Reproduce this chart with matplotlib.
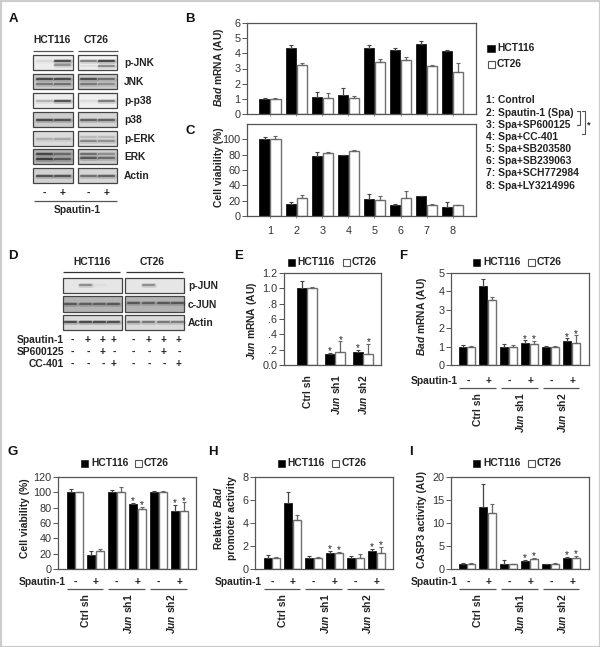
import matplotlib
matplotlib.use("Agg")
import matplotlib.pyplot as plt
from matplotlib.patches import Rectangle

plt.rcParams["font.family"] = ["Liberation Sans", "DejaVu Sans"]
plt.rcParams["mathtext.fontset"] = "custom"
plt.rcParams["mathtext.bfit"] = "Liberation Sans:italic:bold"

W, H = 600, 647
INK = "#222222"
AXC = "#555555"
LAB = 7.4

# bar panels: black series, its errors, white series, its errors
B_hct = [1.0, 4.35, 1.15, 1.25, 4.35, 4.25, 4.6, 4.15]
B_hct_err = [0.05, 0.22, 0.3, 0.45, 0.2, 0.1, 0.2, 0.08]
B_ct = [1.0, 3.25, 1.05, 1.05, 3.4, 3.55, 3.15, 2.8]
B_ct_err = [0.05, 0.08, 0.35, 0.12, 0.2, 0.22, 0.08, 0.55]

C_hct = [100, 16, 78, 79, 22, 15, 26, 12]
C_hct_err = [2.5, 2, 6, 1, 7, 1, 0.5, 6]
C_ct = [100, 24, 82, 85, 21, 24, 14, 14]
C_ct_err = [4, 3, 1.5, 1.5, 5, 8, 2, 1]

E_hct = [1.01, 0.14, 0.17]
E_hct_err = [0.08, 0.02, 0.03]
E_ct = [1.0, 0.17, 0.15]
E_ct_err = [0.02, 0.14, 0.13]

F_hct = [1, 4.32, 1, 1.22, 1, 1.3]
F_hct_err = [0.06, 0.33, 0.13, 0.12, 0.03, 0.15]
F_ct = [1, 3.55, 1, 1.13, 1, 1.22]
F_ct_err = [0.03, 0.12, 0.07, 0.2, 0.05, 0.4]

G_hct = [100, 18, 100, 85, 100, 76]
G_hct_err = [4, 6, 3, 1.5, 1.5, 8]
G_ct = [100, 24, 100, 78, 100, 76]
G_ct_err = [1, 1.5, 7, 3, 1.5, 11]

H_hct = [1, 5.7, 1, 1.4, 1, 1.55]
H_hct_err = [0.22, 1, 0.1, 0.2, 0.12, 0.2]
H_ct = [1, 4.25, 1, 1.4, 1, 1.4]
H_ct_err = [0.07, 0.45, 0.08, 0.12, 0.3, 0.55]

I_hct = [1, 13.5, 1, 1.8, 1, 2.3]
I_hct_err = [0.4, 5, 1, 0.2, 0.15, 0.4]
I_ct = [1, 12.2, 1, 2.2, 1, 2.4]
I_ct_err = [0.2, 2, 0.05, 0.3, 0.3, 0.5]

treatments = ["1: Control", "2: Spautin-1 (Spa)", "3: Spa+SP600125", "4: Spa+CC-401",
              "5: Spa+SB203580", "6: Spa+SB239063", "7: Spa+SCH772984", "8: Spa+LY3214996"]

# blots: background grey, then (height in blot, darkness per lane)
A_names = ["p-JNK", "JNK", "p-p38", "p38", "p-ERK", "ERK", "Actin"]
A_hct = [(0.93, [(0.42, [0.1, 0.95]), (0.68, [0, 0.5])]),
         (0.8, [(0.35, [0.9, 0.9]), (0.65, [0.55, 0.6])]),
         (0.93, [(0.5, [0.3, 0.9])]),
         (0.8, [(0.5, [0.9, 0.85])]),
         (0.86, [(0.55, [0.25, 0.3])]),
         (0.7, [(0.3, [0.85, 0.55]), (0.65, [0.95, 0.7])]),
         (0.82, [(0.55, [0.85, 0.85])])]
A_ct = [(0.95, [(0.42, [0.6, 1.0]), (0.72, [0.1, 0.55])]),
        (0.8, [(0.35, [0.85, 0.6]), (0.65, [0.55, 0.4])]),
        (0.94, [(0.5, [0.1, 0.65])]),
        (0.84, [(0.55, [0.75, 0.75])]),
        (0.87, [(0.4, [0.2, 0.2]), (0.65, [0.5, 0.45])]),
        (0.8, [(0.3, [0.6, 0.4]), (0.62, [0.8, 0.65])]),
        (0.84, [(0.55, [0.65, 0.75])])]
D_names = ["p-JUN", "c-JUN", "Actin"]
D_hct = [(0.9, [(0.45, [0, 0.5, 0.04, 0])]),
         (0.7, [(0.48, [0.7, 0.65, 0.65, 0.7])]),
         (0.86, [(0.45, [0.9, 0.95, 0.95, 0.9])])]
D_ct = [(0.9, [(0.45, [0, 0.5, 0, 0])]),
        (0.7, [(0.45, [0.7, 0.65, 0.7, 0.7])]),
        (0.86, [(0.48, [0.65, 0.6, 0.6, 0.55])])]
D_rows = ["Spautin-1", "SP600125", "CC-401"]
D_signs = [list("-+++"), list("--+-"), list("---+")]


def px_axes(fig, l, t, r, b):
    return fig.add_axes([l / W, 1 - b / H, (r - l) / W, (b - t) / H])


def bar_panel(fig, box, first, step, hct, hct_err, ct, ct_err, ylim, yticks,
              ylabels=None, stars=(), width=0.42):
    l, t, r, b = box
    ax = px_axes(fig, l, t, r, b)
    n = len(hct)
    xs = list(range(n))
    pos_a = [x - width / 2 for x in xs]
    pos_b = [x + width / 2 for x in xs]
    ax.bar(pos_a, hct, width * 0.92, color="black", edgecolor="black", lw=0.5, zorder=2)
    ax.bar(pos_b, ct, width * 0.92, color="white", edgecolor="#707070", lw=1.0, zorder=2)
    for pos, v, e, c in ((pos_a, hct, hct_err, "#444444"), (pos_b, ct, ct_err, "#666666")):
        ax.errorbar(pos, v, yerr=[[0] * n, e], fmt="none", ecolor=c, elinewidth=0.9,
                    capsize=1.4, capthick=0.8, zorder=3)
    for i in stars:
        for pos, v, e in ((pos_a, hct, hct_err), (pos_b, ct, ct_err)):
            ax.annotate("*", (pos[i], v[i] + e[i]), xytext=(0, -2.5), textcoords="offset points",
                        ha="center", va="bottom", fontsize=7, color=INK)
    ax.set_xlim(-(first - l) / step, (r - first) / step)
    ax.set_ylim(*ylim)
    ax.set_yticks(yticks)
    if ylabels:
        ax.set_yticklabels(ylabels)
    ax.set_xticks([])
    ax.tick_params(axis="y", length=3.6, width=0.7, color=AXC, labelsize=7.8, labelcolor="#333333", pad=1.2)
    for s in ax.spines.values():
        s.set_color(AXC)
        s.set_linewidth(0.9)
    return ax


def ylab(ax, box, text, x_right, y_mid, spacing=1.05):
    l, t, r, b = box
    ax.set_ylabel(text, fontsize=LAB, fontweight="bold", color=INK, linespacing=spacing)
    ax.yaxis.set_label_coords((x_right - l) / (r - l), (b - y_mid) / (b - t))


def blot(ov, l, t, r, b, spec, lanes, half):
    bg, bands = spec
    ov.add_patch(Rectangle((l, t), r - l, b - t, fc=str(bg), ec="#444444", lw=0.9, zorder=2))
    for frac, dark in bands:
        y = t + frac * (b - t)
        for x, d in zip(lanes, dark):
            if d <= 0:
                continue
            ov.plot([x - half, x + half], [y, y], color="black", alpha=d * 0.22, lw=3.4,
                    solid_capstyle="round", zorder=3)
            ov.plot([x - half, x + half], [y, y], color="black", alpha=d * 0.6, lw=1.5,
                    solid_capstyle="round", zorder=4)


def T(ov, x, y, s, size=LAB, weight="bold", ha="left", va="center", rot=0, color=INK):
    ov.text(x, y, s, fontsize=size, fontweight=weight, ha=ha, va=va, rotation=rot, color=color)


def seg(ov, x0, x1, y0, y1, color="#555555", lw=0.9):
    ov.plot([x0, x1], [y0, y1], color=color, lw=lw, solid_capstyle="butt")


def legend(ov, x_black, x_text, x_white, x_text2, y):
    ov.add_patch(Rectangle((x_black, y - 3.5), 7, 7, fc="black", ec="black", lw=0.4))
    T(ov, x_text, y, "HCT116")
    ov.add_patch(Rectangle((x_white, y - 3.5), 6.5, 7, fc="white", ec="#555555", lw=0.8))
    T(ov, x_text2, y, "CT26")


def under_axis(ov, right, minus, plus, y_sign, y_line, spans, centers, y_lab):
    T(ov, right, y_sign, "Spautin-1", ha="right")
    for g in range(3):
        T(ov, minus + g * 41.7, y_sign, "-", ha="center")
        T(ov, plus + g * 41.7, y_sign, "+", ha="center")
    for a, c in spans:
        seg(ov, a, c, y_line, y_line)
    for c, s in zip(centers, ["Ctrl sh", r"$\mathbfit{Jun}$ sh1", r"$\mathbfit{Jun}$ sh2"]):
        T(ov, c, y_lab, s, ha="center", va="top", rot=90)


BAD = r"$\mathbfit{Bad}$"
JUN = r"$\mathbfit{Jun}$"

fig = plt.figure(figsize=(W / 100, H / 100), dpi=100, facecolor="white")

box_b = (247, 23, 476, 114)
box_c = (247, 124, 476, 216)
box_e = (284, 273, 381, 365)
box_f = (451, 273, 589, 365)
box_g = (58, 477, 196, 569)
box_h = (255, 477, 393, 569)
box_i = (451, 477, 589, 569)

ax = bar_panel(fig, box_b, 270, 26.1, B_hct, B_hct_err, B_ct, B_ct_err, (0, 6), range(0, 7))
ax.set_xticks(range(8))
ax.set_xticklabels([])
ax.tick_params(axis="x", length=1.5, width=0.6, color="#888888")
ylab(ax, box_b, BAD + " mRNA (AU)", 226, 67)

ax = bar_panel(fig, box_c, 270, 26.1, C_hct, C_hct_err, C_ct, C_ct_err, (0, 120), range(0, 101, 20))
ax.set_xticks(range(8))
ax.set_xticklabels(list("12345678"))
ax.tick_params(axis="x", labelsize=7.8, labelcolor="#333333", length=1.5, width=0.6, color="#888888", pad=6)
ylab(ax, box_c, "Cell viability (%)", 224, 167)

ax = bar_panel(fig, box_e, 307, 28, E_hct, E_hct_err, E_ct, E_ct_err, (0, 1.2),
               [0, 0.2, 0.4, 0.6, 0.8, 1.0, 1.2], ["0.0", ".2", ".4", ".6", ".8", "1.0", "1.2"],
               stars=(1, 2), width=0.39)
ylab(ax, box_e, JUN + " mRNA (AU)", 259, 321)

ax = bar_panel(fig, box_f, 467, 20.85, F_hct, F_hct_err, F_ct, F_ct_err, (0, 5), range(0, 6), stars=(3, 5))
ylab(ax, box_f, BAD + " mRNA (AU)", 429, 316)

ax = bar_panel(fig, box_g, 75, 20.85, G_hct, G_hct_err, G_ct, G_ct_err, (0, 120), range(0, 121, 20), stars=(3, 5))
ylab(ax, box_g, "Cell viability (%)", 30, 518)

ax = bar_panel(fig, box_h, 272, 20.85, H_hct, H_hct_err, H_ct, H_ct_err, (0, 8), range(0, 9, 2), stars=(3, 5))
ylab(ax, box_h, "Relative " + BAD + "\npromoter activity", 237, 518, spacing=1.35)

ax = bar_panel(fig, box_i, 467, 20.85, I_hct, I_hct_err, I_ct, I_ct_err, (0, 20), range(0, 21, 5), stars=(3, 5))
ylab(ax, box_i, "CASP3 activity (AU)", 427, 520)

# overlay in reference pixels for labels, blots and brackets
ov = fig.add_axes([0, 0, 1, 1], zorder=10)
ov.set_xlim(0, W)
ov.set_ylim(H, 0)
ov.axis("off")
ov.patch.set_alpha(0)
ov.add_patch(Rectangle((0.5, 0.5), W - 1, H - 1, fc="none", ec="#cccccc", lw=1.6))

for s, x, y in [("A", 13, 19), ("B", 190, 19), ("C", 190, 131), ("D", 13, 256), ("E", 239, 256),
                ("F", 403, 256), ("G", 13, 452), ("H", 213, 452), ("I", 411, 452)]:
    T(ov, x, y, s, size=9.5, ha="center", color="#111111")

# panel A
T(ov, 52, 40, "HCT116", ha="center")
T(ov, 96, 40, "CT26", ha="center")
seg(ov, 33, 73, 50.5, 50.5)
seg(ov, 78, 118, 50.5, 50.5)
tops = [55, 74, 93, 112, 131, 149, 168]
for i, top in enumerate(tops):
    blot(ov, 33, top, 73, top + 15, A_hct[i], [44, 62], 7.5)
    blot(ov, 78, top, 117, top + 15, A_ct[i], [88, 106], 7.5)
    T(ov, 124, top + 8, A_names[i])
for x, s in zip([44, 63, 88, 107], "-+-+"):
    T(ov, x, 193, s, ha="center")
seg(ov, 34, 117, 201, 201)
T(ov, 77, 210, "Spautin-1", ha="center")

# panel D
T(ov, 92, 262, "HCT116", ha="center")
T(ov, 152, 262, "CT26", ha="center")
seg(ov, 63, 120, 272, 272, color="#333333")
seg(ov, 126, 183, 272, 272, color="#333333")
for i, (top, bot) in enumerate([(278, 293), (296, 312), (315, 330)]):
    blot(ov, 63, top, 122, bot, D_hct[i], [70, 85, 99, 113], 5.5)
    blot(ov, 125, top, 184, bot, D_ct[i], [133, 148, 163, 177], 5.5)
    T(ov, 188, (top + bot) / 2 + 0.5, D_names[i])
for i, y in enumerate([340, 352, 364]):
    T(ov, 64, y, D_rows[i], ha="right")
    for x, s in zip([72, 88, 103, 114, 133, 149, 164, 179], D_signs[i] + D_signs[i]):
        T(ov, x, y, s, ha="center")

# legends
ov.add_patch(Rectangle((487, 44.5), 8, 7, fc="black", ec="black", lw=0.4))
T(ov, 497, 48, "HCT116")
ov.add_patch(Rectangle((487.5, 60.5), 7, 7, fc="white", ec="#555555", lw=0.8))
T(ov, 497, 64, "CT26")
legend(ov, 288, 297, 343, 352, 262)
legend(ov, 473, 483, 528, 537, 262)
legend(ov, 81, 91, 135, 144, 463)
legend(ov, 278, 287, 332, 342, 463)
legend(ov, 473, 483, 528, 537, 463)

# treatment list and brackets
for y, s in zip([100, 113, 125, 137, 149, 161, 173, 186], treatments):
    T(ov, 486, y, s)
ov.plot([577, 580, 580, 577], [110.5, 110.5, 125, 125], color="#555555", lw=0.8)
ov.plot([582, 585, 585, 582], [110.5, 110.5, 134, 134], color="#555555", lw=0.8)
T(ov, 589, 125, "*", size=6.5, ha="center")

# rows under the bars
for c, s in zip([308, 336, 363], ["Ctrl sh", JUN + " sh1", JUN + " sh2"]):
    T(ov, c, 375, s, ha="center", va="top", rot=90)
under_axis(ov, 458, 468, 489, 381, 388, [(459, 496), (501, 538), (543, 579)], [478, 520, 562], 393)
under_axis(ov, 66, 75, 96, 582, 589, [(67, 103), (108, 145), (150, 187)], [86, 128, 171], 594)
under_axis(ov, 262, 272, 293, 582, 589, [(264, 300), (305, 342), (347, 384)], [283, 325, 367], 594)
under_axis(ov, 458, 468, 489, 582, 589, [(459, 496), (501, 538), (543, 579)], [478, 520, 562], 594)

fig.savefig("out.png", dpi=100)
